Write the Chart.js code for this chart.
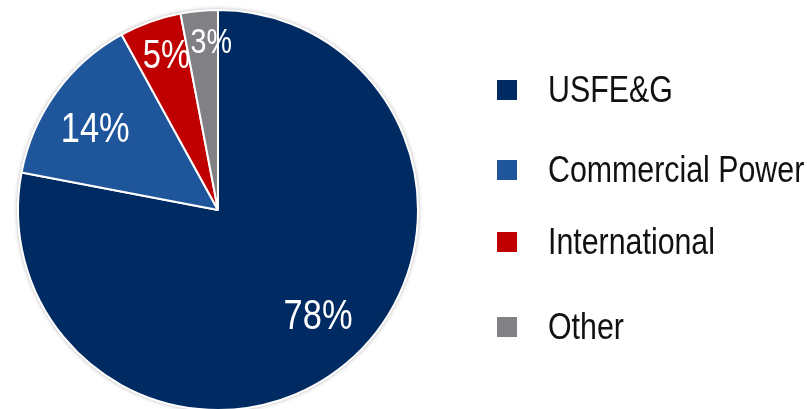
<!DOCTYPE html>
<html>
<head>
<meta charset="utf-8">
<script src="https://cdn.jsdelivr.net/npm/chart.js@4/dist/chart.umd.min.js"></script>
<style>
  html, body { margin: 0; padding: 0; background: #fff; overflow: hidden; }
  #wrap { position: absolute; left: 0; top: 0; width: 807px; height: 422px; }
  .legend { position: absolute; left: 497px; top: 0; font-family: "Liberation Sans", Arial, sans-serif; font-size: 37px; color: #111; }
  .legend .item { position: absolute; left: 0; white-space: nowrap; height: 40px; line-height: 40px; }
  .legend .box { position: absolute; left: 0; top: 10px; width: 20px; height: 20px; }
  .legend .txt { position: absolute; left: 51px; top: 0; transform: scaleX(0.82); transform-origin: 0 50%; }
</style>
</head>
<body>
<div id="wrap"><canvas id="pie"></canvas></div>
<div class="legend" id="legend"></div>
<script>
const labels = ['USFE&G', 'Commercial Power', 'International', 'Other']
const values = [78, 14, 5, 3]
const colors = ['#002a62', '#1f569b', '#c00000', '#808085']

// legend rows are not evenly spaced in the original
const legendY = [70, 150, 222, 307]
const labelFont = [42, 42, 40, 35]
const labelR = [0.73, 0.74, 0.82, 0.84]
const labelDx = [7, -3, 4, 9]
const labelDy = [-5, 7, 1, 1]
const narrow = 0.82

const legend = document.getElementById('legend')
labels.forEach((name, i) => {
    const item = document.createElement('div')
    item.className = 'item'
    item.style.top = legendY[i] + 'px'
    item.innerHTML = '<span class="box" style="background:' + colors[i] + '"></span><span class="txt"></span>'
    item.querySelector('.txt').textContent = name
    legend.appendChild(item)
})

const pieShadow = {
    id: 'pieShadow',
    beforeDatasetsDraw(chart) {
        const arc = chart.getDatasetMeta(0).data[0]
        const ctx = chart.ctx
        ctx.save()
        ctx.beginPath()
        ctx.arc(arc.x, arc.y, arc.outerRadius + 0.5, 0, Math.PI * 2)
        ctx.fillStyle = '#fff'
        ctx.shadowColor = 'rgba(0,0,0,0.35)'
        ctx.shadowBlur = 4
        ctx.fill()
        ctx.restore()
    }
}

const sliceLabels = {
    id: 'sliceLabels',
    afterDatasetsDraw(chart) {
        const ctx = chart.ctx
        chart.getDatasetMeta(0).data.forEach((arc, i) => {
            const mid = (arc.startAngle + arc.endAngle) / 2
            const r = arc.outerRadius * labelR[i]
            const x = arc.x + Math.cos(mid) * r + labelDx[i]
            const y = arc.y + Math.sin(mid) * r + labelDy[i]
            ctx.save()
            ctx.translate(x, y)
            ctx.scale(narrow, 1)
            ctx.font = labelFont[i] + 'px "Liberation Sans", Arial, sans-serif'
            ctx.fillStyle = '#fff'
            ctx.textAlign = 'center'
            ctx.textBaseline = 'middle'
            ctx.fillText(values[i] + '%', 0, 0)
            ctx.restore()
        })
    }
}

new Chart(document.getElementById('pie').getContext('2d'), {
    type: 'pie',
    data: {
        labels: labels,
        datasets: [{
            data: values,
            backgroundColor: colors,
            borderColor: '#fff',
            borderWidth: 2
        }]
    },
    options: {
        responsive: true,
        maintainAspectRatio: false,
        animation: false,
        layout: { padding: { left: 17, top: 9, right: 388, bottom: 11 } },
        plugins: {
            legend: { display: false },
            tooltip: { enabled: false }
        }
    },
    plugins: [pieShadow, sliceLabels]
})
</script>
</body>
</html>
